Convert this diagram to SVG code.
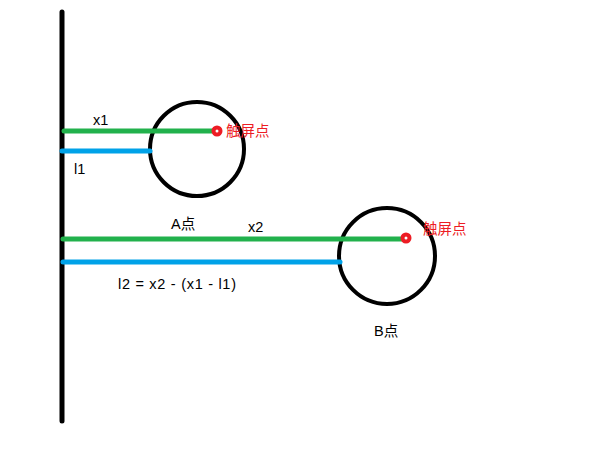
<svg xmlns="http://www.w3.org/2000/svg" width="592" height="453" viewBox="0 0 592 453">
<style>
.t{font-family:"Liberation Sans","Noto Sans CJK SC",sans-serif;font-size:14.5px;fill:#000}
.r{font-family:"Noto Sans CJK SC","Liberation Sans",sans-serif;font-size:14.5px;fill:#ed1c24}
.c{fill:none;stroke:#000;stroke-width:4}
.g{stroke:#22b14c;stroke-width:5;stroke-linecap:round}
.b{stroke:#00a2e8;stroke-width:5;stroke-linecap:round}
.dot{fill:#fff;stroke:#ed1c24;stroke-width:4}
</style>
<rect width="592" height="453" fill="#fff"/>
<g id="wall"><line x1="62" y1="12" x2="62" y2="421" stroke="#000" stroke-width="5" stroke-linecap="round"/></g>
<g id="circleA"><circle class="c" cx="197" cy="149" r="47"/><text class="t" x="171" y="229">A点</text></g>
<g id="circleB"><circle class="c" cx="387" cy="256" r="48"/><text class="t" x="374" y="336">B点</text></g>
<g id="connectors">
<line class="g" x1="64" y1="131" x2="215" y2="131"/>
<line class="b" x1="62" y1="151" x2="150" y2="151"/>
<line class="g" x1="63" y1="239" x2="404" y2="239"/>
<line class="b" x1="63" y1="262" x2="340" y2="262"/>
</g>
<g id="touchA"><circle class="dot" cx="217" cy="131" r="3.5"/><text class="r" x="226" y="136">触屏点</text></g>
<g id="touchB"><circle class="dot" cx="406" cy="238" r="3.5"/><text class="r" x="423" y="234">触屏点</text></g>
<g id="labels">
<text class="t" x="93" y="125">x1</text>
<text class="t" x="74" y="174">l1</text>
<text class="t" x="248" y="232">x2</text>
<text class="t" x="118" y="289" textLength="118">l2 = x2 - (x1 - l1)</text>
</g>
</svg>
